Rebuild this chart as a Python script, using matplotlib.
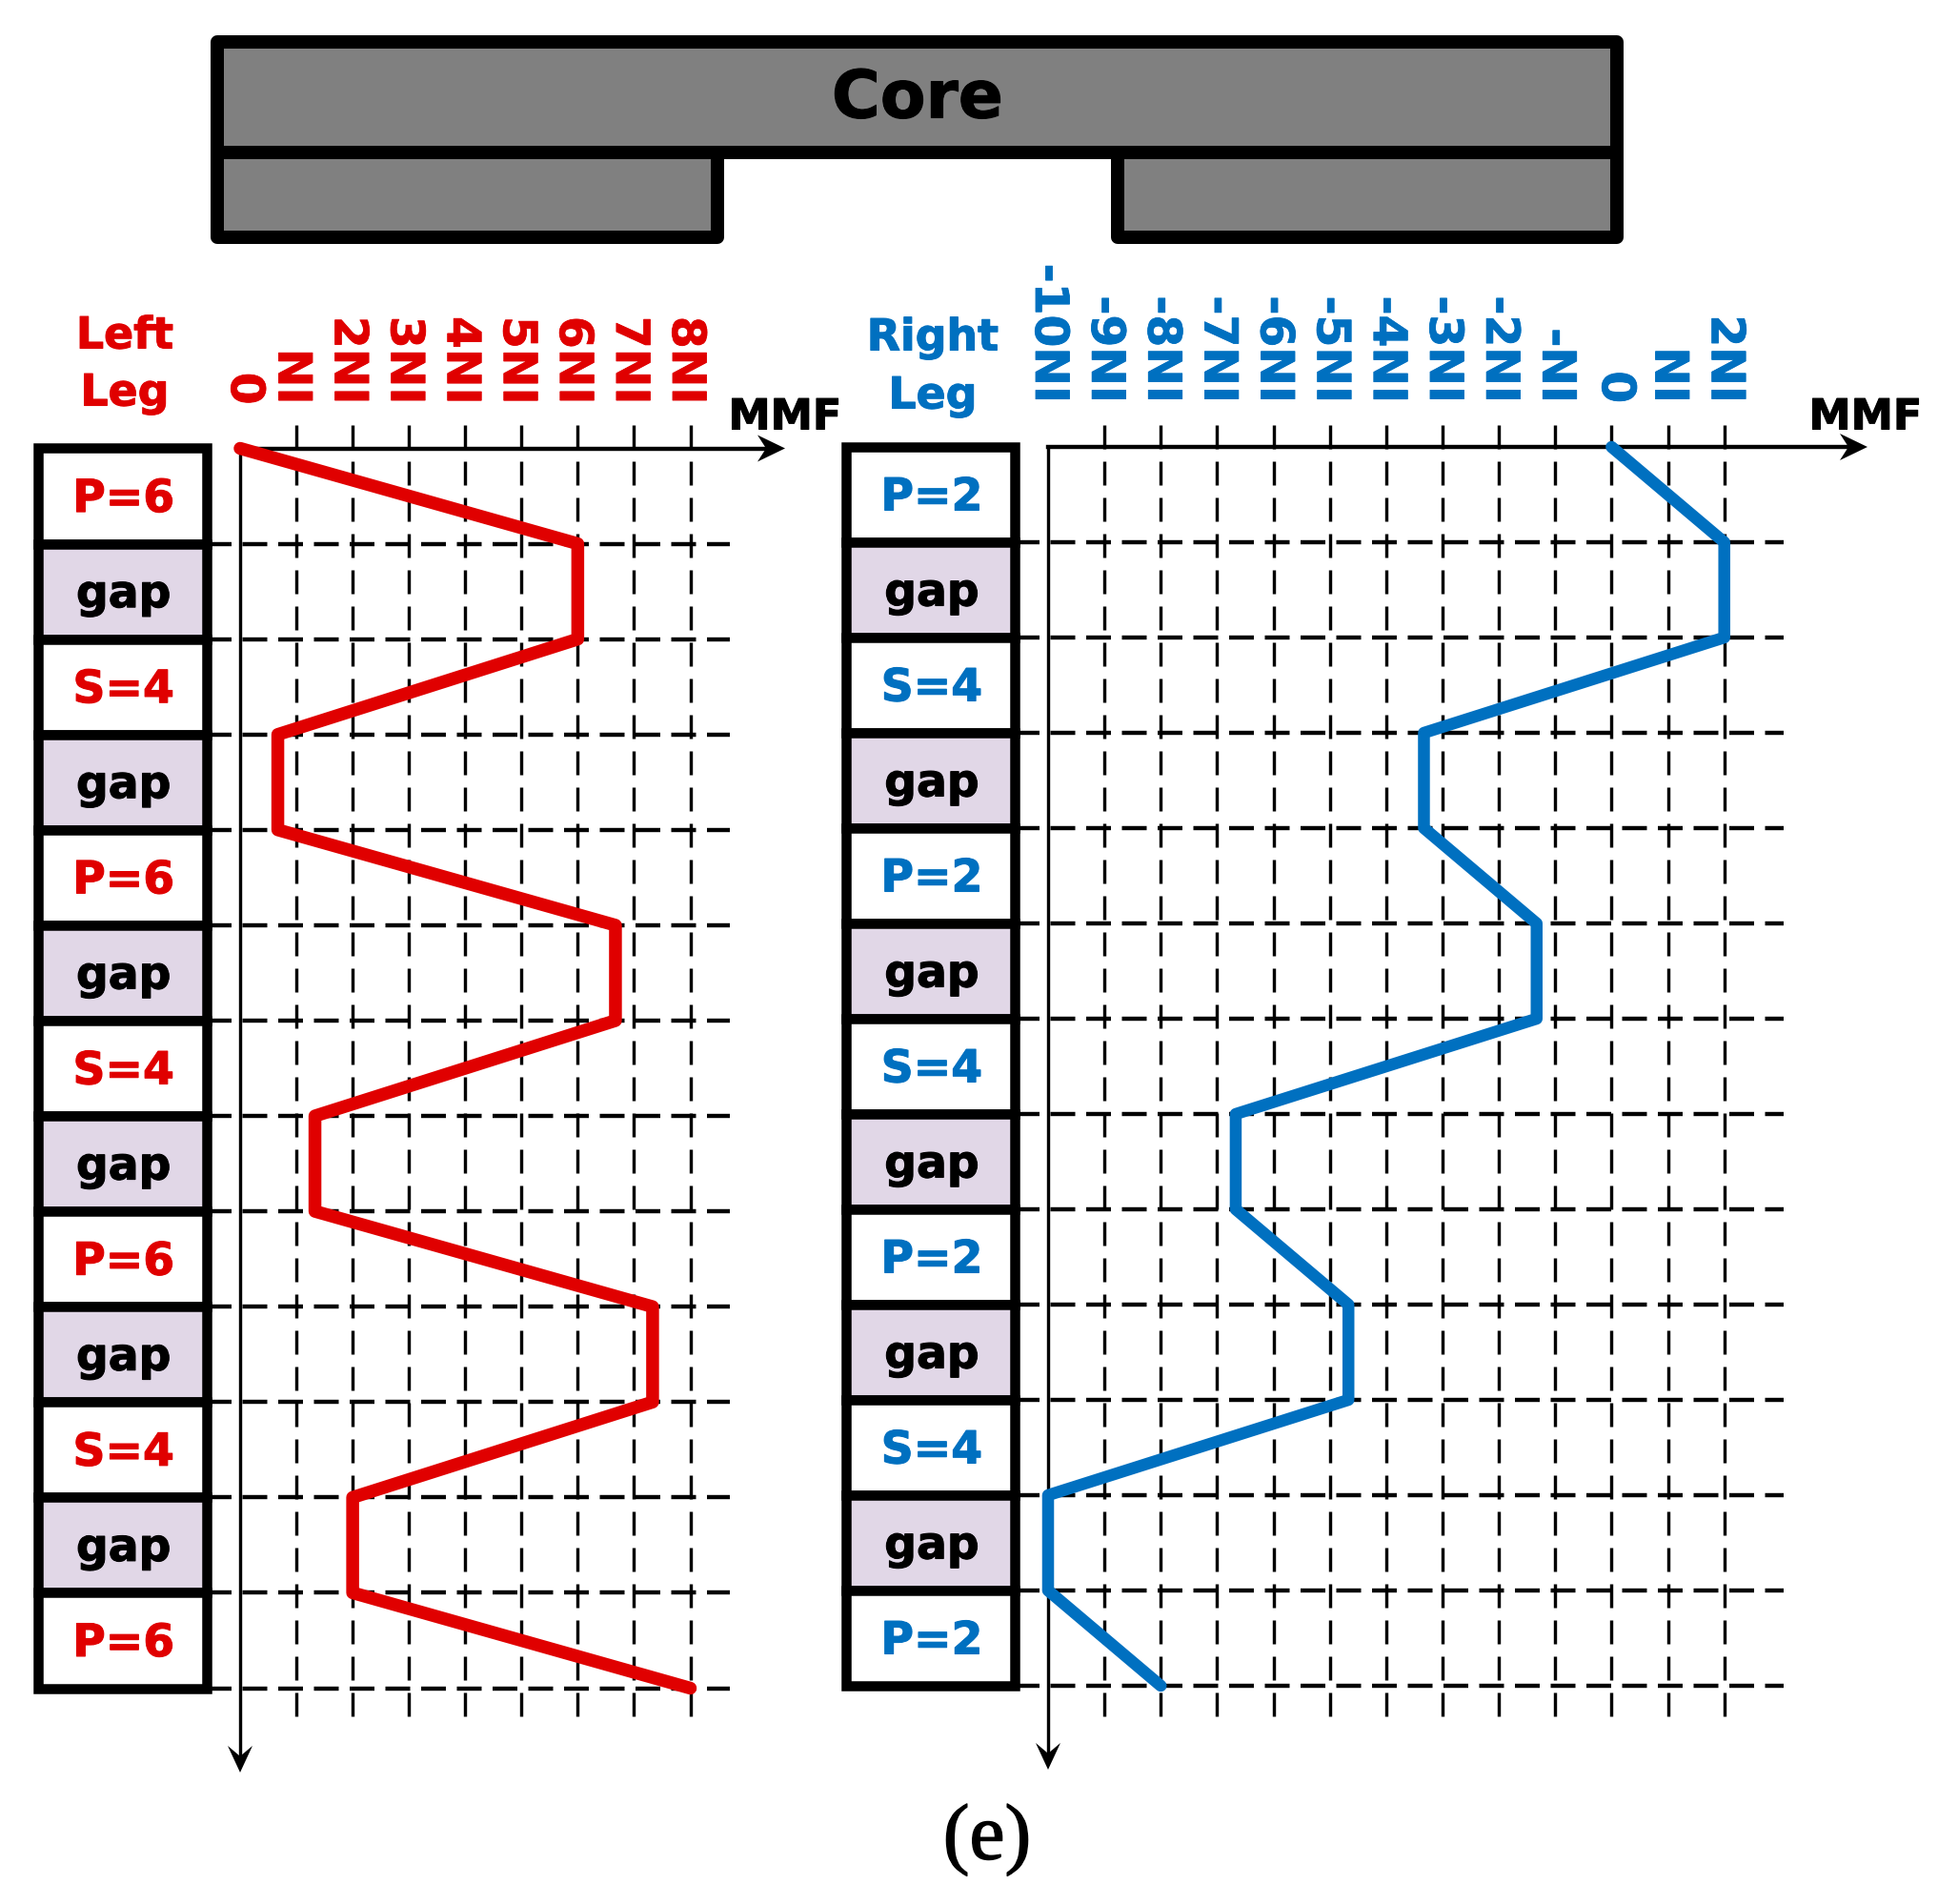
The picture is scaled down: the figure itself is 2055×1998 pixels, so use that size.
import matplotlib
matplotlib.use('Agg')
import matplotlib.pyplot as plt
import matplotlib.patheffects as pe
from matplotlib.patches import Rectangle, Polygon
from matplotlib.transforms import ScaledTranslation

W, H = 2055, 1998
DPI = 100
PT = 72 / DPI  # one pixel in points

plt.rcParams['font.family'] = ['DejaVu Sans']
plt.rcParams['lines.scale_dashes'] = False

RED = '#E00000'
BLUE = '#0070C0'
GAP = '#E1D7E7'
GREY = '#808080'

# data
left_rows = ['P=6', 'gap', 'S=4', 'gap', 'P=6', 'gap', 'S=4', 'gap', 'P=6', 'gap', 'S=4', 'gap', 'P=6']
right_rows = ['P=2', 'gap', 'S=4', 'gap', 'P=2', 'gap', 'S=4', 'gap', 'P=2', 'gap', 'S=4', 'gap', 'P=2']
row_edges = [0, 1, 2, 3, 4, 5, 6, 7, 8, 9, 10, 11, 12, 13]
left_mmf = [0, 6, 6, 0.67, 0.67, 6.67, 6.67, 1.33, 1.33, 7.33, 7.33, 2, 2, 8]
right_mmf = [0, 2, 2, -3.33, -3.33, -1.33, -1.33, -6.67, -6.67, -4.67, -4.67, -10, -10, -8]
left_ticks = [0, 1, 2, 3, 4, 5, 6, 7, 8]
left_labels = ['0', 'NI', '2NI', '3NI', '4NI', '5NI', '6NI', '7NI', '8NI']
right_ticks = [-10, -9, -8, -7, -6, -5, -4, -3, -2, -1, 0, 1, 2]
right_labels = ['-10NI', '-9NI', '-8NI', '-7NI', '-6NI', '-5NI', '-4NI', '-3NI', '-2NI', '-NI', '0', 'NI', '2NI']

fig = plt.figure(figsize=(W / DPI, H / DPI), dpi=DPI)


def heavy(color, w=0.8):
    # thickens the glyphs a little, the original face is heavier than DejaVu Bold
    return [pe.withStroke(linewidth=w, foreground=color)]


def px_axes(x0, x1, y0, y1):
    # axes placed by pixel box, y measured from the top of the image
    ax = fig.add_axes([x0 / W, 1 - y1 / H, (x1 - x0) / W, (y1 - y0) / H])
    ax.patch.set_alpha(0)
    return ax


# whole-figure layer for the core, axis arrows and free text
bg = px_axes(0, W, 0, H)
bg.set_xlim(0, W)
bg.set_ylim(H, 0)
bg.axis('off')

for x, y, w, h in [(228, 43.5, 1469, 116.5), (228, 160, 525, 88.5), (1173, 160, 524, 88.5)]:
    bg.add_patch(Rectangle((x, y), w, h, fc=GREY, ec='black', lw=14 * PT, joinstyle='round'))
bg.text(963, 104, 'Core', fontsize=50, fontweight='bold', ha='center', va='center', path_effects=heavy('black'))


def arrow_right(tip, y):
    bg.add_patch(Polygon([(tip, y), (tip - 29, y - 14), (tip - 20, y), (tip - 29, y + 14)], fc='black', ec='none', zorder=5))


def arrow_down(x, tip):
    bg.add_patch(Polygon([(x, tip), (x - 13, tip - 28), (x, tip - 17), (x + 13, tip - 28)], fc='black', ec='none', zorder=5))


def draw_leg(rows, mmf, ticks, labels, color, box, chart, xr, hr, label_dx, zero_dx, trace_w):
    bx0, bx1 = box
    cx0, cx1, cy0, cy1 = chart
    px_x = (cx1 - cx0) / (ticks[-1] - ticks[0])
    px_y = (cy1 - cy0) / (row_edges[-1] - row_edges[0])

    ax = px_axes(cx0, cx1, cy0, cy1)
    ax.set_xlim(ticks[0], ticks[-1])
    ax.set_ylim(row_edges[-1], row_edges[0])
    for s in ax.spines.values():
        s.set_visible(False)
    ax.set_yticks([])

    # dashed grid, extends past the axes in pixels
    grid_top = -(cy0 - 446) / px_y
    grid_bot = (1808 - cy0) / px_y
    ax.vlines(ticks[1:], grid_top, grid_bot, colors='black', lw=3.4 * PT,
              linestyles=[(0, (25 * PT, 13 * PT))], clip_on=False, zorder=2)
    ax.hlines(row_edges[1:], ticks[0] + (bx1 - cx0) / px_x, ticks[0] + (hr - cx0) / px_x, colors='black',
              lw=4.4 * PT, linestyles=[(0, (26 * PT, 11.5 * PT))], clip_on=False, zorder=2)

    # MMF trace
    ax.plot(mmf, row_edges, color=color, lw=trace_w * PT, solid_joinstyle='round', solid_capstyle='round',
            clip_on=False, zorder=4)

    ax.xaxis.tick_top()
    ax.set_xticks(ticks)
    ax.set_xticklabels(labels, rotation=-90, ha='center', va='bottom', color=color, fontsize=35, fontweight='bold')
    ax.tick_params(axis='x', length=0, pad=33)
    for lab, tick_text in zip(ax.get_xticklabels(), labels):
        dx = zero_dx if tick_text == '0' else label_dx
        lab.set_transform(lab.get_transform() + ScaledTranslation(dx / DPI, 0, fig.dpi_scale_trans))
        lab.set_path_effects(heavy(color, 0.6))

    # axes lines and arrows
    bg.plot([cx0, cx0], [cy0, 1845], color='black', lw=3.4 * PT, zorder=3)
    bg.plot([cx0, xr - 10], [cy0, cy0], color='black', lw=4.4 * PT, zorder=3)

    # winding column
    col = px_axes(bx0, bx1, cy0, cy1)
    col.set_xlim(0, 1)
    col.set_ylim(row_edges[-1], row_edges[0])
    col.axis('off')
    centres = [e + 0.5 for e in row_edges[:-1]]
    colors = [GAP if r == 'gap' else 'white' for r in rows]
    col.barh(centres, 1, height=1, color=colors, edgecolor='black', linewidth=10.5 * PT, clip_on=False, zorder=3)
    for y, r in zip(centres, rows):
        tc = 'black' if r == 'gap' else color
        col.text(0.51, y + 0.04, r, ha='center', va='center', fontsize=34, fontweight='bold',
                 color=tc, zorder=5, path_effects=heavy(tc))


draw_leg(left_rows, left_mmf, left_ticks, left_labels, RED, (39.5, 216.5), (252, 724.5, 470.5, 1771.5), 824, 766, -4.5, 5, 13.5)
draw_leg(right_rows, right_mmf, right_ticks, right_labels, BLUE, (887.5, 1065), (1100, 1809.7, 469, 1769), 1960, 1872, 1, 4.5, 12.5)

arrow_right(824, 470.5)
arrow_right(1960, 469)
arrow_down(252, 1860)
arrow_down(1100, 1857)

bg.text(131, 353, 'Left', color=RED, fontsize=33, fontweight='bold', ha='center', va='center', path_effects=heavy(RED))
bg.text(131, 413, 'Leg', color=RED, fontsize=33, fontweight='bold', ha='center', va='center', path_effects=heavy(RED))
bg.text(979, 355, 'Right', color=BLUE, fontsize=33, fontweight='bold', ha='center', va='center', path_effects=heavy(BLUE))
bg.text(979, 416, 'Leg', color=BLUE, fontsize=33, fontweight='bold', ha='center', va='center', path_effects=heavy(BLUE))
bg.text(824, 438, 'MMF', fontsize=32, fontweight='bold', ha='center', va='center', path_effects=heavy('black'))
bg.text(1958, 438, 'MMF', fontsize=32, fontweight='bold', ha='center', va='center', path_effects=heavy('black'))
bg.text(1036, 1931, '(e)', family='Liberation Serif', fontsize=60, ha='center', va='center', path_effects=heavy('black', 1.0))

fig.savefig('out.png', dpi=DPI)
